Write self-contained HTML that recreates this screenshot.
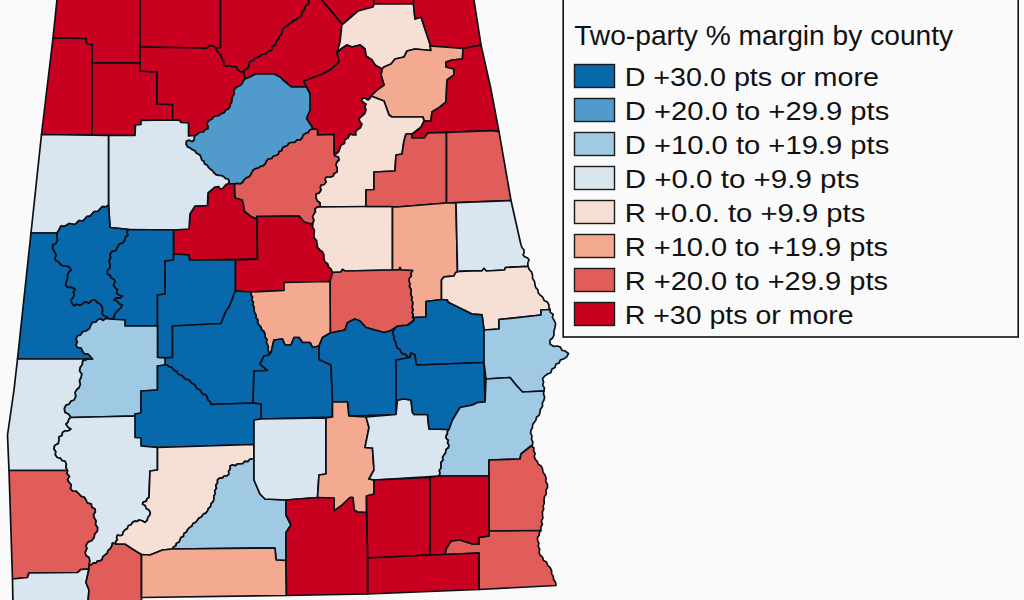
<!DOCTYPE html>
<html><head><meta charset="utf-8"><title>Two-party margin by county</title>
<style>
html,body{margin:0;padding:0;background:#fafafa;}
body{width:1024px;height:600px;overflow:hidden;font-family:"Liberation Sans",sans-serif;}
svg{display:block}
path{stroke:#0c0f16;stroke-width:1.7;stroke-linejoin:round}
.d30{fill:#0868ac}
.d20{fill:#519bcc}
.d10{fill:#a0cae3}
.d0{fill:#d9e6ef}
.r0{fill:#f6dfd5}
.r10{fill:#f3aa90}
.r20{fill:#e05d59}
.r30{fill:#ca0020}
text{font-family:"Liberation Sans",sans-serif;fill:#111}
.ti{font-size:27.5px}
.li{font-size:26.2px}
</style></head><body>
<svg width="1024" height="600" viewBox="0 0 1024 600">
<rect width="1024" height="600" fill="#fafafa"/>
<g>
<path class="r30" d="M57.6 -6 L140 -6 L140 63 L92 63 L92 44.5 L86.5 43.5 L86 38.5 L53 38Z"/>
<path class="r30" d="M53 38 L86 38.5 L86.5 43.5 L92 44.5 L92 135 L41.5 134.5Z"/>
<path class="r30" d="M92 63 L140 63 L140 71 L157 72 L157 104 L172.5 104.5 L172.5 120 L141 120.5 L141 124.5 L135.5 125 L135 135.5 L92 135Z"/>
<path class="r30" d="M140 -6 L220.5 -6 L220.5 47.5 L216.5 48.5 L214 46.5 L210 45.5 L206 48.5 L200 48 L140 47Z"/>
<path class="r30" d="M140 47 L200 48 L206 48.5 L210 45.5 L214 46.5 L216.5 48.5 L216.9 50.8 L218.5 52.5 L220.3 54.5 L221.5 57 L222.3 59.7 L224 62 L223.5 65 L227 66 L229.7 65.5 L232.3 66.7 L235 66 L236.8 67.4 L237.5 69.5 L240 71.5 L242.1 72 L244 71 L244.5 76 L245 79 L243.2 81.3 L242 84 L239.7 85.8 L237 87 L235 88.5 L233.8 90.9 L234.3 93.7 L233 96 L232.1 97.9 L232 100 L231.7 102.4 L230.2 104.5 L230 107 L228.4 109.1 L226 110 L224 113 L221.2 113.6 L218.9 115.7 L216 116 L213.6 116.8 L212.2 119 L210 120 L208 121.6 L207 124 L208.1 126.4 L208 129 L205.4 129.5 L203.7 131.8 L201 132 L198.8 132.8 L197.2 134.6 L195 135.5 L188.5 136 L188.5 123 L181 122.5 L180 120.5 L172.5 120 L172.5 104.5 L157 104 L157 72 L140 71Z"/>
<path class="r30" d="M220.5 -6 L313 -6 L311.3 -4.1 L311.2 -1.3 L308.7 0.2 L308.9 3.2 L307 5 L304.9 7 L304.7 10.1 L302.1 11.8 L301.9 14.9 L300 17 L297.6 18 L295.9 20.2 L293.2 20.8 L291.7 23.1 L289 23.7 L287.5 26.1 L285 27 L282.9 29.1 L282 32 L281.4 34.5 L279.3 36.2 L278.7 38.8 L276.8 40.6 L276 43 L275 45.4 L272.4 46.5 L272.1 49.4 L270 51 L267.6 51.3 L266.3 53.6 L264 54 L261.4 54.6 L259.6 56.8 L257 57.5 L254.7 58.5 L253.3 60.6 L250.7 61.1 L249 63 L249.1 65.9 L248 68.5 L245.7 69.2 L244 71 L242.1 72 L240 71.5 L237.5 69.5 L236.8 67.4 L235 66 L232.3 66.7 L229.7 65.5 L227 66 L223.5 65 L224 62 L222.3 59.7 L221.5 57 L220.3 54.5 L218.5 52.5 L216.9 50.8 L216.5 48.5 L220.5 47.5Z"/>
<path class="r30" d="M244 71 L245.7 69.2 L248 68.5 L249.1 65.9 L249 63 L250.7 61.1 L253.3 60.6 L254.7 58.5 L257 57.5 L259.6 56.8 L261.4 54.6 L264 54 L266.3 53.6 L267.6 51.3 L270 51 L272.1 49.4 L272.4 46.5 L275 45.4 L276 43 L276.8 40.6 L278.7 38.8 L279.3 36.2 L281.4 34.5 L282 32 L282.9 29.1 L285 27 L287.5 26.1 L289 23.7 L291.7 23.1 L293.2 20.8 L295.9 20.2 L297.6 18 L300 17 L301.9 14.9 L302.1 11.8 L304.7 10.1 L304.9 7 L307 5 L308.9 3.2 L308.7 0.2 L311.2 -1.3 L311.3 -4.1 L313 -6 L317 -6 L342 24 L340 42 L337 52.5 L339 62 L330 70 L320 75 L304 81 L306.5 87 L291.5 87 L283 80 L280 77 L274 74 L255.5 74 L250 77 L245 79 L244.5 76 L244 71Z"/>
<path class="r30" d="M317 -6 L373.5 -6 L374 4 L373 7 L358 11 L343 24 L342 24Z"/>
<path class="r30" d="M373.5 -6 L414 -6 L413.5 3.8 L374 4Z"/>
<path class="r0" d="M342 24 L343 24 L358 11 L373 7 L374 4 L413.5 3.8 L415 19 L421 17 L430 44 L431 50.5 L415 49 L407 51 L404 57 L395 59 L391 64 L384 67 L382 69 L375 65 L372 60 L366 56 L365 49 L360 45 L352 47 L347 45 L341 49 L337 52.5 L340 42Z"/>
<path class="r30" d="M414 -6 L473 -6 L481 45 L463 48.5 L430 46 L430 44 L421 17 L415 19 L413.5 3.8Z"/>
<path class="r10" d="M382 69 L384 67 L391 64 L395 59 L404 57 L407 51 L415 49 L431 50.5 L430 46 L463 48.5 L462.5 59 L452 60 L446 62 L446 67 L454 69 L454 75 L447 80 L446 102 L440 107 L432 112 L431 121 L424 121 L423 117 L392 117 L389 115 L384 101 L371 96 L377 90 L384 85 L381 75Z"/>
<path class="r30" d="M463 48.5 L481 45 L490.6 87.5 L499 131.6 L492 130.6 L446.5 132.3 L428 133 L424 138 L412 138 L412 134 L421 127 L424 121 L431 121 L432 112 L440 107 L446 102 L447 80 L454 75 L454 69 L446 67 L446 62 L452 60 L462.5 59Z"/>
<path class="r30" d="M337 52.5 L341 49 L347 45 L352 47 L360 45 L365 49 L366 56 L372 60 L375 65 L382 69 L381 75 L384 85 L377 90 L371 96 L370 98.3 L368 100 L365 98 L362.5 98.5 L361.5 100.5 L363.5 102.5 L366 104 L365 107 L366 110 L364.8 113.5 L362 116 L359 119 L360 121.8 L362 124 L360.5 127.8 L357 130 L355.6 132.3 L356 135 L352.9 135 L350 134 L348 138 L345 139.7 L344.5 143.4 L341.3 145 L340 148 L338.8 151.5 L336 154 L334 153 L334 134.5 L317.5 135 L317.5 129.5 L312.5 129 L312 127 L306.5 118.5 L310 110 L310 94 L306.5 87 L304 81 L320 75 L330 70 L339 62Z"/>
<path class="d20" d="M245 79 L250 77 L255.5 74 L274 74 L280 77 L283 80 L291.5 87 L306.5 87 L310 94 L310 110 L306.5 118.5 L312 127 L312.5 129 L309.8 130 L308.2 132.6 L305.5 133.5 L303.1 135.2 L302.2 138.1 L300 140 L297 140.2 L294.6 142.4 L291.5 142.5 L288.9 143.2 L287.4 145.5 L285 146.5 L282.7 147.8 L281.9 150.6 L279.2 151.5 L278.4 154.3 L276 155.5 L273.3 156.3 L271.5 158.7 L268.5 158.9 L266.5 161 L265.3 163.9 L263 166 L260.5 166.4 L258.5 168.1 L256 168.5 L253.6 169.8 L252 172 L250.8 174.7 L249 177 L246.2 177.9 L244 180 L242.5 182.5 L240 184 L237.2 183.4 L234.5 184 L228.5 183.5 L229 181.2 L228 179 L225.6 178.7 L224 177 L221.7 175.7 L219 175.5 L216.2 174.9 L214 173 L212.4 170.6 L210 169 L208.2 167.2 L207 165 L204.5 164 L204 161.5 L201.6 159.9 L201 157.5 L200.1 155.2 L198 154 L196.1 152.9 L195 151 L192 149.5 L190 147.9 L187.5 147 L186 144 L186.5 141 L189 140 L192 141.5 L194 140 L194.1 137.7 L195 135.5 L197.2 134.6 L198.8 132.8 L201 132 L203.7 131.8 L205.4 129.5 L208 129 L208.1 126.4 L207 124 L208 121.6 L210 120 L212.2 119 L213.6 116.8 L216 116 L218.9 115.7 L221.2 113.6 L224 113 L226 110 L228.4 109.1 L230 107 L230.2 104.5 L231.7 102.4 L232 100 L232.1 97.9 L233 96 L234.3 93.7 L233.8 90.9 L235 88.5 L237 87 L239.7 85.8 L242 84 L243.2 81.3Z"/>
<path class="r0" d="M334 153 L336 154 L338.8 151.5 L340 148 L341.3 145 L344.5 143.4 L345 139.7 L348 138 L350 134 L352.9 135 L356 135 L355.6 132.3 L357 130 L360.5 127.8 L362 124 L360 121.8 L359 119 L362 116 L364.8 113.5 L366 110 L365 107 L366 104 L363.5 102.5 L361.5 100.5 L362.5 98.5 L365 98 L368 100 L370 98.3 L371 96 L384 101 L389 115 L392 117 L423 117 L424 121 L421 127 L412 134 L406 134 L404 141 L402 154 L396 155 L395 171 L374 172 L374 189.5 L366 190 L366 206.5 L320 207 L320 203 L317.4 201 L316 198 L316 194 L319.2 192.9 L321 190 L320.2 187.5 L321 185 L324.1 184.5 L326 182 L325.1 179.5 L326 177 L330 177 L332.9 176.2 L334.3 173.2 L337 172 L337.2 168.4 L336 165 L336.7 162 L339 160 L338.3 157 L334.7 156Z"/>
<path class="r20" d="M234.5 184 L237.2 183.4 L240 184 L242.5 182.5 L244 180 L246.2 177.9 L249 177 L250.8 174.7 L252 172 L253.6 169.8 L256 168.5 L258.5 168.1 L260.5 166.4 L263 166 L265.3 163.9 L266.5 161 L268.5 158.9 L271.5 158.7 L273.3 156.3 L276 155.5 L278.4 154.3 L279.2 151.5 L281.9 150.6 L282.7 147.8 L285 146.5 L287.4 145.5 L288.9 143.2 L291.5 142.5 L294.6 142.4 L297 140.2 L300 140 L302.2 138.1 L303.1 135.2 L305.5 133.5 L308.2 132.6 L309.8 130 L312.5 129 L317.5 129.5 L317.5 135 L334 134.5 L334 153 L334.7 156 L338.3 157 L339 160 L336.7 162 L336 165 L337.2 168.4 L337 172 L334.3 173.2 L332.9 176.2 L330 177 L326 177 L325.1 179.5 L326 182 L324.1 184.5 L321 185 L320.2 187.5 L321 190 L319.2 192.9 L316 194 L316 198 L317.4 201 L320 203 L320 207 L317.2 207.2 L315 209 L315.5 211.7 L314 214 L312.6 216.9 L314 220.1 L313 223 L311 224 L304 222 L299 216 L257 216.5 L256 219 L250 216 L244 211 L243.5 205 L242 200 L235 198 L234.5 191Z"/>
<path class="r30" d="M228.5 183.5 L234.5 184 L234.5 191 L235 198 L242 200 L243.5 205 L244 211 L250 216 L256 219 L257 216.5 L257.5 259 L189.5 260 L189 255 L173.5 254 L173.5 230 L189 229 L190 214 L195 206 L207.5 205.5 L208 193 L215 187 L218.5 186.5 L220 188.5 L222 189 L226 184.5 L228.5 183.5Z"/>
<path class="d0" d="M108.5 135.5 L135 135.5 L135.5 125 L141 124.5 L141 120.5 L172.5 120 L180 120.5 L181 122.5 L188.5 123 L188.5 136 L195 135.5 L194.1 137.7 L194 140 L192 141.5 L189 140 L186.5 141 L186 144 L187.5 147 L190 147.9 L192 149.5 L195 151 L196.1 152.9 L198 154 L200.1 155.2 L201 157.5 L201.6 159.9 L204 161.5 L204.5 164 L207 165 L208.2 167.2 L210 169 L212.4 170.6 L214 173 L216.2 174.9 L219 175.5 L221.7 175.7 L224 177 L225.6 178.7 L228 179 L229 181.2 L228.5 183.5 L226 184.5 L222 189 L220 188.5 L218.5 186.5 L215 187 L208 193 L207.5 205.5 L195 206 L190 214 L189 229 L173.5 230 L129 229.5 L110 227.5 L108.5 205Z"/>
<path class="d0" d="M41.5 134.5 L108.5 135.5 L108.5 205 L105.9 206.9 L102.3 206.6 L100 209 L97.9 211.5 L94.2 211.5 L92 214 L90.1 216.2 L86.8 216.5 L85 219 L82.7 221 L79.3 220.5 L77 222.5 L74.9 224.5 L72 224 L69.3 223.5 L67 225 L64.1 226.4 L61 226 L59 230 L57 233 L31 233Z"/>
<path class="d30" d="M57 233 L59 230 L61 226 L64.1 226.4 L67 225 L69.3 223.5 L72 224 L74.9 224.5 L77 222.5 L79.3 220.5 L82.7 221 L85 219 L86.8 216.5 L90.1 216.2 L92 214 L94.2 211.5 L97.9 211.5 L100 209 L102.3 206.6 L105.9 206.9 L108.5 205 L110 227.5 L129 229.5 L126.8 231.7 L128.2 235.2 L125.4 237.2 L125 240 L122.9 242.9 L119.2 244.2 L117.5 247.5 L115.8 250.8 L111.7 251.7 L110 255 L110.8 258 L109 261 L110 264 L110.2 267.6 L107.4 270.4 L107.5 274 L110.1 275.1 L111.3 278 L114 279 L115.2 281.7 L113.6 284.8 L115 287.5 L117.5 289.4 L116.5 293.1 L119 295 L122.5 296 L120.1 298.2 L116.5 297.9 L114 300 L117.2 301 L119.4 303.8 L122.5 305 L120.4 308.4 L117.5 311 L115 313.8 L114 317.5 L111.7 319 L109 319 L106.9 316.8 L104 316 L102 313.9 L102.5 311 L102.2 307.2 L100 304 L97.1 302.4 L95 300 L91.7 300.5 L89.1 303.2 L85.2 301.8 L82.5 304 L79.8 305.4 L76.6 304.3 L74 306 L71.7 303.4 L71 300 L73 297.8 L74 295 L73.4 291.8 L75 289 L71.4 287.4 L67.5 287.5 L65.6 285.3 L66 282.5 L67.3 278.9 L67.5 275 L68.7 272.1 L71 270 L69.2 267.1 L66 266 L62.7 266 L60 264 L58.5 261.8 L56 261 L54.7 258.3 L56.1 255.2 L55 252.5 L52.7 249.1 L52.5 245 L55.9 243.4 L57.5 240 L56.6 236.5Z"/>
<path class="d30" d="M31 233 L57 233 L56.6 236.5 L57.5 240 L55.9 243.4 L52.5 245 L52.7 249.1 L55 252.5 L56.1 255.2 L54.7 258.3 L56 261 L58.5 261.8 L60 264 L62.7 266 L66 266 L69.2 267.1 L71 270 L68.7 272.1 L67.5 275 L67.3 278.9 L66 282.5 L65.6 285.3 L67.5 287.5 L71.4 287.4 L75 289 L73.4 291.8 L74 295 L73 297.8 L71 300 L71.7 303.4 L74 306 L76.6 304.3 L79.8 305.4 L82.5 304 L85.2 301.8 L89.1 303.2 L91.7 300.5 L95 300 L97.1 302.4 L100 304 L102.2 307.2 L102.5 311 L102 313.9 L104 316 L106.9 316.8 L109 319 L106 318.3 L103.3 320.4 L100.3 318.8 L97.5 320 L95.8 322.2 L92.4 322.4 L91 325 L89.4 328.8 L86 331 L82.6 331.8 L80.7 334.9 L77.5 336 L76.1 338.8 L77.3 342.1 L76 345 L77.7 347.5 L81.2 348.1 L82.5 351 L84.3 353.8 L87.8 353.8 L90 356 L92.5 359 L17.5 359Z"/>
<path class="d30" d="M129 229.5 L173.5 230 L173.5 260 L165 261 L165 294 L157.5 295 L157.5 326 L125 326 L125 320 L109 319 L111.7 319 L114 317.5 L115 313.8 L117.5 311 L120.4 308.4 L122.5 305 L119.4 303.8 L117.2 301 L114 300 L116.5 297.9 L120.1 298.2 L122.5 296 L119 295 L116.5 293.1 L117.5 289.4 L115 287.5 L113.6 284.8 L115.2 281.7 L114 279 L111.3 278 L110.1 275.1 L107.5 274 L107.4 270.4 L110.2 267.6 L110 264 L109 261 L110.8 258 L110 255 L111.7 251.7 L115.8 250.8 L117.5 247.5 L119.2 244.2 L122.9 242.9 L125 240 L125.4 237.2 L128.2 235.2 L126.8 231.7Z"/>
<path class="d30" d="M173.5 254 L189 255 L189.5 260 L235.5 260 L235.5 291 L234 294 L232 300 L229 307 L226 311 L221 323.5 L172.5 326 L172.5 357.5 L157.5 357.5 L157.5 295 L165 294 L165 261 L173.5 260Z"/>
<path class="r30" d="M257 216.5 L299 216 L304 222 L311 224 L313 223 L312.5 226.7 L314.3 230.3 L314 234 L314 237.6 L316.6 240.5 L317 244 L317.6 247.4 L320 250 L322.6 252 L324 255 L323.9 258.6 L325 262 L327.7 263.7 L328.6 267 L331 269 L332.5 272.5 L330 281.5 L284 282.5 L284 290.5 L251 292 L235.5 291 L235.5 260 L257.5 259Z"/>
<path class="r0" d="M320 207 L366 206.5 L391.5 206.5 L392.5 207 L392.5 270 L345 271 L342.5 269.5 L341 272 L332.5 272.5 L331 269 L328.6 267 L327.7 263.7 L325 262 L323.9 258.6 L324 255 L322.6 252 L320 250 L317.6 247.4 L317 244 L316.6 240.5 L314 237.6 L314 234 L314.3 230.3 L312.5 226.7 L313 223 L314 220.1 L312.6 216.9 L314 214 L315.5 211.7 L315 209 L317.2 207.2Z"/>
<path class="r20" d="M404 141 L406 134 L412 134 L412 138 L424 138 L428 133 L446.5 132.3 L446.5 203 L397 207 L391.5 206.5 L366 206.5 L366 190 L374 189.5 L374 172 L395 171 L396 155 L402 154Z"/>
<path class="r20" d="M446.5 132.3 L492 130.6 L499 131.6 L511 200.5 L446.5 203Z"/>
<path class="r10" d="M392.5 207 L397 207 L446.5 203 L456 202.7 L457.5 272 L455.6 272.5 L454 276 L444 276.8 L441.5 280 L441.5 299.5 L426 301.5 L426 317 L414 317.5 L412.5 317 L413.3 314.6 L411.9 312.2 L413.2 309.8 L412 307.4 L412.5 305 L412.7 302.3 L411.4 299.9 L412 297.2 L410.7 294.7 L411 292 L411 289.2 L409.3 286.6 L409.9 283.7 L409 281 L409.2 278.2 L411.3 275.9 L411 272.9 L412.5 270.5 L401 270 L400 267.5 L399 270 L392.5 270Z"/>
<path class="d0" d="M456 202.7 L511 200.5 L521 245 L522.1 247.8 L524 250 L524.1 252.6 L523 255 L524.8 256.9 L527.5 257.7 L529 260 L527.8 263 L528 266.3 L505.4 267.5 L504.6 270 L486.3 271 L484 268.5 L482 270.8 L473 270.8 L459.7 271.3 L457.5 272Z"/>
<path class="r0" d="M457.5 272 L459.7 271.3 L473 270.8 L482 270.8 L484 268.5 L486.3 271 L504.6 270 L505.4 267.5 L528 266.3 L529.2 269.4 L531.5 271.8 L532.5 275 L532.6 278.5 L534.6 281.6 L535 285 L535.8 287.7 L537.9 289.8 L538.2 292.8 L540 295 L542.7 297.1 L544.1 300.4 L547.3 302 L549 305 L548.9 307.4 L550 309.5 L541 310 L541 315 L499 319.5 L499 329 L484 330 L482 314.8 L472 314 L448 302.3 L447.3 300 L441.5 299.5 L441.5 280 L444 276.8 L454 276 L455.6 272.5Z"/>
<path class="d30" d="M426 301.5 L441.5 299.5 L447.3 300 L448 302.3 L472 314 L482 314.8 L484 330 L484 362.5 L417.5 365 L416 364 L415 355 L411 353 L410 357.5 L410 357.5 L407.4 356.9 L405.8 354.5 L403 354.1 L401 352.5 L399.9 349.6 L397 348 L396 345 L395.6 342.1 L393.9 339.6 L394.1 336.5 L392.5 334 L393.2 330.8 L395 328 L397.5 326 L407.5 325 L414 320 L412.5 317 L414 317.5 L426 317Z"/>
<path class="r20" d="M332.5 272.5 L341 272 L342.5 269.5 L345 271 L392.5 270 L399 270 L400 267.5 L401 270 L412.5 270.5 L411 272.9 L411.3 275.9 L409.2 278.2 L409 281 L409.9 283.7 L409.3 286.6 L411 289.2 L411 292 L410.7 294.7 L412 297.2 L411.4 299.9 L412.7 302.3 L412.5 305 L412 307.4 L413.2 309.8 L411.9 312.2 L413.3 314.6 L412.5 317 L414 320 L407.5 325 L397.5 326 L395 328 L390 331 L384 332.5 L375 330 L366 327.5 L360 321 L355 319 L347.5 322.5 L345 330 L340 331 L330.3 333 L330 281.5Z"/>
<path class="r10" d="M251 292 L284 290.5 L284 282.5 L330 281.5 L330.3 333 L322.5 337.5 L319 346 L312.5 347.5 L310 342.5 L302.5 342.5 L299 337.5 L294 337.5 L291 345 L285 345 L282.5 339 L274 340 L271 352.5 L269 355 L269.1 352.4 L267.7 350.1 L268.3 347.4 L267.5 345 L266.3 342.4 L266.9 339.4 L265 336.9 L265 334 L263.9 331.5 L261.6 329.8 L260.9 327 L259 325 L257.5 322.7 L257.8 319.8 L255.8 317.7 L256 314.9 L254.5 312.6 L254 310 L254.1 307.3 L252.6 304.9 L253.4 302.2 L251.5 299.8 L252.5 297 L250.9 294.7Z"/>
<path class="d30" d="M235.5 291 L251 292 L250.9 294.7 L252.5 297 L251.5 299.8 L253.4 302.2 L252.6 304.9 L254.1 307.3 L254 310 L254.5 312.6 L256 314.9 L255.8 317.7 L257.8 319.8 L257.5 322.7 L259 325 L260.9 327 L261.6 329.8 L263.9 331.5 L265 334 L265 336.9 L266.9 339.4 L266.3 342.4 L267.5 345 L268.3 347.4 L267.7 350.1 L269.1 352.4 L269 355 L264 356 L260 364 L267.5 370.5 L254 371 L253 403 L211 404.5 L210.1 401.8 L207.8 399.8 L207 397 L205.5 394.8 L202.6 394.1 L201 392 L199.9 389.8 L197.3 389 L196 387 L194.4 384.6 L191.7 383.3 L190 381 L188.3 379.5 L185.7 379.5 L184 378 L182.4 375.9 L180 375 L177.8 374 L176.9 371.6 L174.5 370.8 L173 369 L171.4 367.1 L168.8 366.6 L167 365 L165 365 L165 358 L172.5 357.5 L172.5 326 L221 323.5 L226 311 L229 307 L232 300 L234 294Z"/>
<path class="d30" d="M269 355 L271 352.5 L274 340 L282.5 339 L285 345 L291 345 L294 337.5 L299 337.5 L302.5 342.5 L310 342.5 L312.5 347.5 L319 346 L319 346 L319 359 L320 360 L331 365 L332.5 402 L332.5 417 L261 419 L261 404 L253 403 L254 371 L267.5 370.5 L260 364 L264 356Z"/>
<path class="d30" d="M319 346 L322.5 337.5 L330.3 333 L340 331 L345 330 L347.5 322.5 L355 319 L360 321 L366 327.5 L375 330 L384 332.5 L390 331 L395 328 L393.2 330.8 L392.5 334 L394.1 336.5 L393.9 339.6 L395.6 342.1 L396 345 L397 348 L399.9 349.6 L401 352.5 L403 354.1 L405.8 354.5 L407.4 356.9 L410 357.5 L396 360 L396 414.5 L348.8 416 L347.5 402 L332.5 402 L331 365 L320 360 L319 359Z"/>
<path class="d10" d="M109 319 L125 320 L125 326 L157.5 326 L157.5 357.5 L165 358 L165 365 L157.5 366 L157.5 390 L141 391 L141 413 L135 414 L135 416 L71 417.5 L68.6 414.3 L65 412.5 L64.2 408.6 L66 405 L69.1 404 L70.9 401 L74 400 L75.7 396.4 L75 392.5 L76.6 389.7 L79 387.5 L80.3 384.3 L79.3 380.6 L81 377.5 L81.7 374.1 L79.5 370.9 L80 367.5 L82.2 364.6 L82.5 361 L85 360 L88.7 358.8 L92.5 359 L90 356 L87.8 353.8 L84.3 353.8 L82.5 351 L81.2 348.1 L77.7 347.5 L76 345 L77.3 342.1 L76.1 338.8 L77.5 336 L80.7 334.9 L82.6 331.8 L86 331 L89.4 328.8 L91 325 L92.4 322.4 L95.8 322.2 L97.5 320 L100.3 318.8 L103.3 320.4 L106 318.3Z"/>
<path class="d0" d="M17.5 359 L92.5 359 L88.7 358.8 L85 360 L82.5 361 L82.2 364.6 L80 367.5 L79.5 370.9 L81.7 374.1 L81 377.5 L79.3 380.6 L80.3 384.3 L79 387.5 L76.6 389.7 L75 392.5 L75.7 396.4 L74 400 L70.9 401 L69.1 404 L66 405 L64.2 408.6 L65 412.5 L68.6 414.3 L71 417.5 L68.8 419.2 L68.2 422.2 L66 424 L67.9 427.1 L71 429 L68.4 430.8 L65.1 430.8 L62.5 432.5 L62.1 435.4 L59 437 L59 440 L58.4 443.6 L54.7 445.4 L54 449 L55.8 451.6 L55.4 455 L57.5 457.5 L60.3 458 L62.2 460.5 L65 461 L66.4 464 L66 467.5 L67.5 470.5 L9 470.5 L7.5 435 L14 390Z"/>
<path class="d30" d="M165 365 L167 365 L168.8 366.6 L171.4 367.1 L173 369 L174.5 370.8 L176.9 371.6 L177.8 374 L180 375 L182.4 375.9 L184 378 L185.7 379.5 L188.3 379.5 L190 381 L191.7 383.3 L194.4 384.6 L196 387 L197.3 389 L199.9 389.8 L201 392 L202.6 394.1 L205.5 394.8 L207 397 L207.8 399.8 L210.1 401.8 L211 404.5 L253 403 L261 404 L261 419 L254 420 L254 444.5 L157.5 447.5 L141 446 L141 438 L135 437.5 L135 414 L141 413 L141 391 L157.5 390 L157.5 366Z"/>
<path class="d0" d="M71 417.5 L135 416 L135 437.5 L141 438 L141 446 L157.5 447.5 L157.5 470 L150 471 L149 497.5 L147 498.8 L146.3 501.3 L143.5 501.8 L142.5 504 L145.2 505.4 L146.3 508.5 L149 510 L150.3 512.3 L150 515 L148 517.3 L147.2 520.4 L145 522.5 L142.2 520.8 L139 520 L137.1 521.5 L134.5 521.1 L132.5 522.5 L131.1 524.8 L128.3 525.8 L127.3 528.6 L125 530 L123.1 532.2 L122.5 535 L120 535.8 L117.5 535 L116.6 537.2 L117.5 539.6 L115.6 541.6 L116 544 L112.5 543 L111.8 546.2 L110 549 L107.9 550.7 L107.2 553.4 L105 555 L102.9 556.6 L102.2 559.5 L100 561 L97.5 561.1 L95.8 563.2 L93.3 563 L91.4 564.8 L89 565 L89.7 561.2 L89 557.5 L86.1 555.7 L85 552.5 L86.7 548.9 L86 545 L88.1 541.9 L91.8 540.5 L94 537.5 L94.6 534 L97.3 531.2 L97.5 527.5 L95.4 524.5 L95.9 520.6 L94 517.5 L93.4 514.6 L95.3 511.9 L95 509 L91.9 507.6 L91.2 503.8 L87.3 503.2 L86 500 L84.3 497.3 L81 496.4 L79 494 L76.3 491.4 L72.5 491 L70.3 488.6 L71.3 484.8 L69 482.5 L67.5 479.6 L69.4 476.4 L66.9 473.6 L67.5 470.5 L67.5 470.5 L66 467.5 L66.4 464 L65 461 L62.2 460.5 L60.3 458 L57.5 457.5 L55.4 455 L55.8 451.6 L54 449 L54.7 445.4 L58.4 443.6 L59 440 L59 437 L62.1 435.4 L62.5 432.5 L65.1 430.8 L68.4 430.8 L71 429 L67.9 427.1 L66 424 L68.2 422.2 L68.8 419.2Z"/>
<path class="r20" d="M9 470.5 L67.5 470.5 L66.9 473.6 L69.4 476.4 L67.5 479.6 L69 482.5 L71.3 484.8 L70.3 488.6 L72.5 491 L76.3 491.4 L79 494 L81 496.4 L84.3 497.3 L86 500 L87.3 503.2 L91.2 503.8 L91.9 507.6 L95 509 L95.3 511.9 L93.4 514.6 L94 517.5 L95.9 520.6 L95.4 524.5 L97.5 527.5 L97.3 531.2 L94.6 534 L94 537.5 L91.8 540.5 L88.1 541.9 L86 545 L86.7 548.9 L85 552.5 L86.1 555.7 L89 557.5 L89.7 561.2 L89 565 L89 569 L81 569.5 L77.5 572.5 L29 573 L27.5 577.5 L12.5 579Z"/>
<path class="d0" d="M12.5 579 L27.5 577.5 L29 573 L77.5 572.5 L81 569.5 L89 569 L86 582.5 L89 590 L87.5 608 L13 608Z"/>
<path class="r20" d="M89 565 L91.4 564.8 L93.3 563 L95.8 563.2 L97.5 561.1 L100 561 L102.2 559.5 L102.9 556.6 L105 555 L107.2 553.4 L107.9 550.7 L110 549 L111.8 546.2 L112.5 543 L116 544 L125 544 L132.5 549 L141.5 554.5 L141.5 608 L87.5 608 L89 590 L86 582.5 L89 569Z"/>
<path class="r0" d="M157.5 447.5 L254 444.5 L254 459 L252.5 459 L249.8 459.4 L247.8 461.7 L244.7 461.3 L242.8 463.7 L240 464 L237.4 464 L235.2 465.8 L232.4 464.9 L230 466 L230.4 468.8 L228.6 471.2 L229 474 L227.1 475.9 L224.2 476 L222.3 478.1 L219.5 478.2 L217.5 480 L217.6 482.8 L215.8 485.3 L216.5 488.2 L214.7 490.7 L215.3 493.6 L213.8 496.2 L214 499 L213.2 501.7 L211.1 503.6 L210.7 506.5 L208.5 508.4 L207.5 511 L205.8 513.1 L203.2 514.2 L201.8 516.7 L199.2 517.9 L197.5 520 L195.8 522.3 L193 523.5 L191.8 526.3 L189.2 527.7 L187.5 530 L186.3 532.2 L183.9 533.5 L183.5 536.4 L180.9 537.5 L180 540 L179.1 542.3 L176.5 543.2 L175.9 545.7 L173.6 546.9 L172.5 549 L162.5 550 L150 555 L141.5 554.5 L132.5 549 L125 544 L116 544 L115.6 541.6 L117.5 539.6 L116.6 537.2 L117.5 535 L120 535.8 L122.5 535 L123.1 532.2 L125 530 L127.3 528.6 L128.3 525.8 L131.1 524.8 L132.5 522.5 L134.5 521.1 L137.1 521.5 L139 520 L142.2 520.8 L145 522.5 L147.2 520.4 L148 517.3 L150 515 L150.3 512.3 L149 510 L146.3 508.5 L145.2 505.4 L142.5 504 L143.5 501.8 L146.3 501.3 L147 498.8 L149 497.5 L150 471 L157.5 470Z"/>
<path class="d10" d="M172.5 549 L173.6 546.9 L175.9 545.7 L176.5 543.2 L179.1 542.3 L180 540 L180.9 537.5 L183.5 536.4 L183.9 533.5 L186.3 532.2 L187.5 530 L189.2 527.7 L191.8 526.3 L193 523.5 L195.8 522.3 L197.5 520 L199.2 517.9 L201.8 516.7 L203.2 514.2 L205.8 513.1 L207.5 511 L208.5 508.4 L210.7 506.5 L211.1 503.6 L213.2 501.7 L214 499 L213.8 496.2 L215.3 493.6 L214.7 490.7 L216.5 488.2 L215.8 485.3 L217.6 482.8 L217.5 480 L219.5 478.2 L222.3 478.1 L224.2 476 L227.1 475.9 L229 474 L228.6 471.2 L230.4 468.8 L230 466 L232.4 464.9 L235.2 465.8 L237.4 464 L240 464 L242.8 463.7 L244.7 461.3 L247.8 461.7 L249.8 459.4 L252.5 459 L254 459 L254 480 L260 494 L265 499 L286 500 L286 515 L291 525 L286 532.5 L286 560.5 L276 560 L275 548Z"/>
<path class="r10" d="M141.5 554.5 L150 555 L162.5 550 L172.5 549 L275 548 L276 560 L286 560.5 L286.5 595.5 L141.5 597.5Z"/>
<path class="d0" d="M254 420 L261 419 L326 418 L326 440 L326 474 L319 475 L317.5 497.5 L286 500 L265 499 L260 494 L254 480Z"/>
<path class="r10" d="M326 418 L332.5 417 L332.5 402 L347.5 402 L348.8 416 L366 417 L369 427.5 L365 447.5 L372.5 448 L374 470 L369 479 L374 480 L374 494 L366.5 496 L366.5 512.5 L357.5 512 L354 510 L353 497.5 L350 497.5 L341 506 L334 511 L334 498 L317.5 497.5 L319 475 L326 474 L326 440Z"/>
<path class="d0" d="M366 417 L396 414.5 L397.5 400 L404 399 L411 400 L412.5 412.5 L414 414.5 L427.5 414.5 L429 429 L449 429.5 L447.5 431.4 L447.4 434 L446 436 L446.3 438.4 L448.3 440.2 L447.6 443 L449 445 L448.4 447.8 L445.9 449.7 L445.7 452.7 L444 455 L442.6 457.3 L443.1 460.2 L441 462.3 L441 465 L441.2 467.9 L439.3 470.4 L440.1 473.4 L439 476 L374 480 L369 479 L374 470 L372.5 448 L365 447.5 L369 427.5Z"/>
<path class="d30" d="M396 360 L410 357.5 L411 353 L415 355 L416 364 L417.5 365 L484 362.5 L485 402 L477.5 402.5 L472.5 405 L460 407.5 L452.5 420 L449 429.5 L429 429 L427.5 414.5 L414 414.5 L412.5 412.5 L411 400 L404 399 L397.5 400 L396 400Z"/>
<path class="d10" d="M484 330 L499 329 L499 319.5 L541 315 L541 310 L550 309.5 L550.3 312.4 L553.2 314.3 L552.4 317.6 L554 320 L555.6 323.6 L555 327.5 L553.9 331.2 L554 335 L552.6 338 L550 340 L550 344 L553.4 346.3 L557.5 346 L560.4 347.1 L561.9 350.2 L565 351 L568.5 353.5 L566.7 356.9 L563.5 359 L560.5 359.9 L559 363.1 L556 364 L555 367.5 L552 369.1 L550.8 372.7 L547.5 374 L544.6 376.1 L542.5 379 L543.6 381.9 L542.7 385.1 L544.4 387.9 L544 391 L522.5 392 L516 385 L510 377.5 L486 379 L484 362.5Z"/>
<path class="d10" d="M486 379 L510 377.5 L516 385 L522.5 392 L544 391 L543.5 394 L544.6 397 L544 400 L542.4 402.9 L542.5 406.4 L540.4 409.2 L540 412.5 L539 415.3 L536.5 417.2 L535.9 420.2 L534 422.5 L532.6 424.8 L532.4 427.7 L531 430 L530.6 433.1 L532 436 L531.4 439.1 L532.8 441.9 L532.5 445 L531 446 L526 450 L521 454 L520 459 L489 460 L489 476 L439 476 L440.1 473.4 L439.3 470.4 L441.2 467.9 L441 465 L441 462.3 L443.1 460.2 L442.6 457.3 L444 455 L445.7 452.7 L445.9 449.7 L448.4 447.8 L449 445 L447.6 443 L448.3 440.2 L446.3 438.4 L446 436 L447.4 434 L447.5 431.4 L449 429.5 L452.5 420 L460 407.5 L472.5 405 L477.5 402.5 L485 402Z"/>
<path class="r20" d="M489 460 L520 459 L521 454 L526 450 L531 446 L534 448 L533.5 450.8 L535.1 453.4 L534.3 456.3 L535 459 L537.2 461.3 L538.3 464.3 L541.2 466 L542.5 469 L543 472.3 L545 475 L546.1 478 L545.7 481.4 L547.4 484.3 L547.5 487.5 L545.9 490.4 L546.3 493.9 L544.4 496.7 L544 500 L544.3 503.1 L543.1 506 L543.7 509.1 L542.4 512 L542.5 515 L542.9 518.2 L541.3 521.1 L542.4 524.4 L540.7 527.3 L541 530.5 L489 531Z"/>
<path class="r20" d="M489 531 L541 530.5 L539.4 532.6 L539.1 535.4 L537.5 537.5 L537.6 540.5 L538.9 543.2 L538.2 546.3 L539.7 549.1 L539.1 552.2 L540 555 L542.5 557.1 L543.5 560.4 L546.5 562.1 L547.7 565.3 L550 567.5 L551.6 570.3 L551.6 573.6 L553.3 576.4 L553.6 579.6 L555.5 582.3 L556 585.5 L479 589.5 L479 553 L445 554.5 L446 549 L451 541 L460 540 L472.5 544 L479 544 L479 537.5 L489 536Z"/>
<path class="r30" d="M430 477.5 L439 476 L489 476 L489 536 L479 537.5 L479 544 L472.5 544 L460 540 L451 541 L446 549 L445 554.5 L430 555Z"/>
<path class="r30" d="M374 480 L430 477.5 L430 555 L367.5 558 L366.5 496 L374 494Z"/>
<path class="r30" d="M367.5 558 L430 555 L445 554.5 L479 553 L479 589.5 L367.5 594Z"/>
<path class="r30" d="M286 500 L317.5 497.5 L334 498 L334 511 L341 506 L350 497.5 L353 497.5 L354 510 L357.5 512 L366.5 512.5 L367.5 558 L367.5 594 L286.5 595.5 L286 560.5 L286 532.5 L291 525 L286 515Z"/>
</g>
<rect x="563.2" y="-10" width="455" height="347" fill="#fafafa" stroke="#111" stroke-width="1.6"/>
<text class="ti" x="574.2" y="45.3" textLength="379" lengthAdjust="spacingAndGlyphs">Two-party % margin by county</text>
<rect x="574.5" y="64.5" width="40" height="23" fill="#0868ac" stroke="#1a1a1a" stroke-width="1.4"/>
<text class="li" x="624.7" y="86.3" textLength="254.3" lengthAdjust="spacingAndGlyphs">D +30.0 pts or more</text>
<rect x="574.5" y="98.5" width="40" height="23" fill="#519bcc" stroke="#1a1a1a" stroke-width="1.4"/>
<text class="li" x="624.7" y="120.3" textLength="264.6" lengthAdjust="spacingAndGlyphs">D +20.0 to +29.9 pts</text>
<rect x="574.5" y="132.5" width="40" height="23" fill="#a0cae3" stroke="#1a1a1a" stroke-width="1.4"/>
<text class="li" x="624.7" y="154.3" textLength="264.6" lengthAdjust="spacingAndGlyphs">D +10.0 to +19.9 pts</text>
<rect x="574.5" y="166.5" width="40" height="23" fill="#d9e6ef" stroke="#1a1a1a" stroke-width="1.4"/>
<text class="li" x="624.7" y="188.3" textLength="234.8" lengthAdjust="spacingAndGlyphs">D +0.0 to +9.9 pts</text>
<rect x="574.5" y="200.5" width="40" height="23" fill="#f6dfd5" stroke="#1a1a1a" stroke-width="1.4"/>
<text class="li" x="624.7" y="222.3" textLength="240.6" lengthAdjust="spacingAndGlyphs">R +0.0. to +9.9 pts</text>
<rect x="574.5" y="234.5" width="40" height="23" fill="#f3aa90" stroke="#1a1a1a" stroke-width="1.4"/>
<text class="li" x="624.7" y="256.3" textLength="263.3" lengthAdjust="spacingAndGlyphs">R +10.0 to +19.9 pts</text>
<rect x="574.5" y="268.5" width="40" height="23" fill="#e05d59" stroke="#1a1a1a" stroke-width="1.4"/>
<text class="li" x="624.7" y="290.3" textLength="263.3" lengthAdjust="spacingAndGlyphs">R +20.0 to +29.9 pts</text>
<rect x="574.5" y="302.5" width="40" height="23" fill="#ca0020" stroke="#1a1a1a" stroke-width="1.4"/>
<text class="li" x="624.7" y="324.3" textLength="228.9" lengthAdjust="spacingAndGlyphs">R +30 pts or more</text>

</svg>
</body></html>
